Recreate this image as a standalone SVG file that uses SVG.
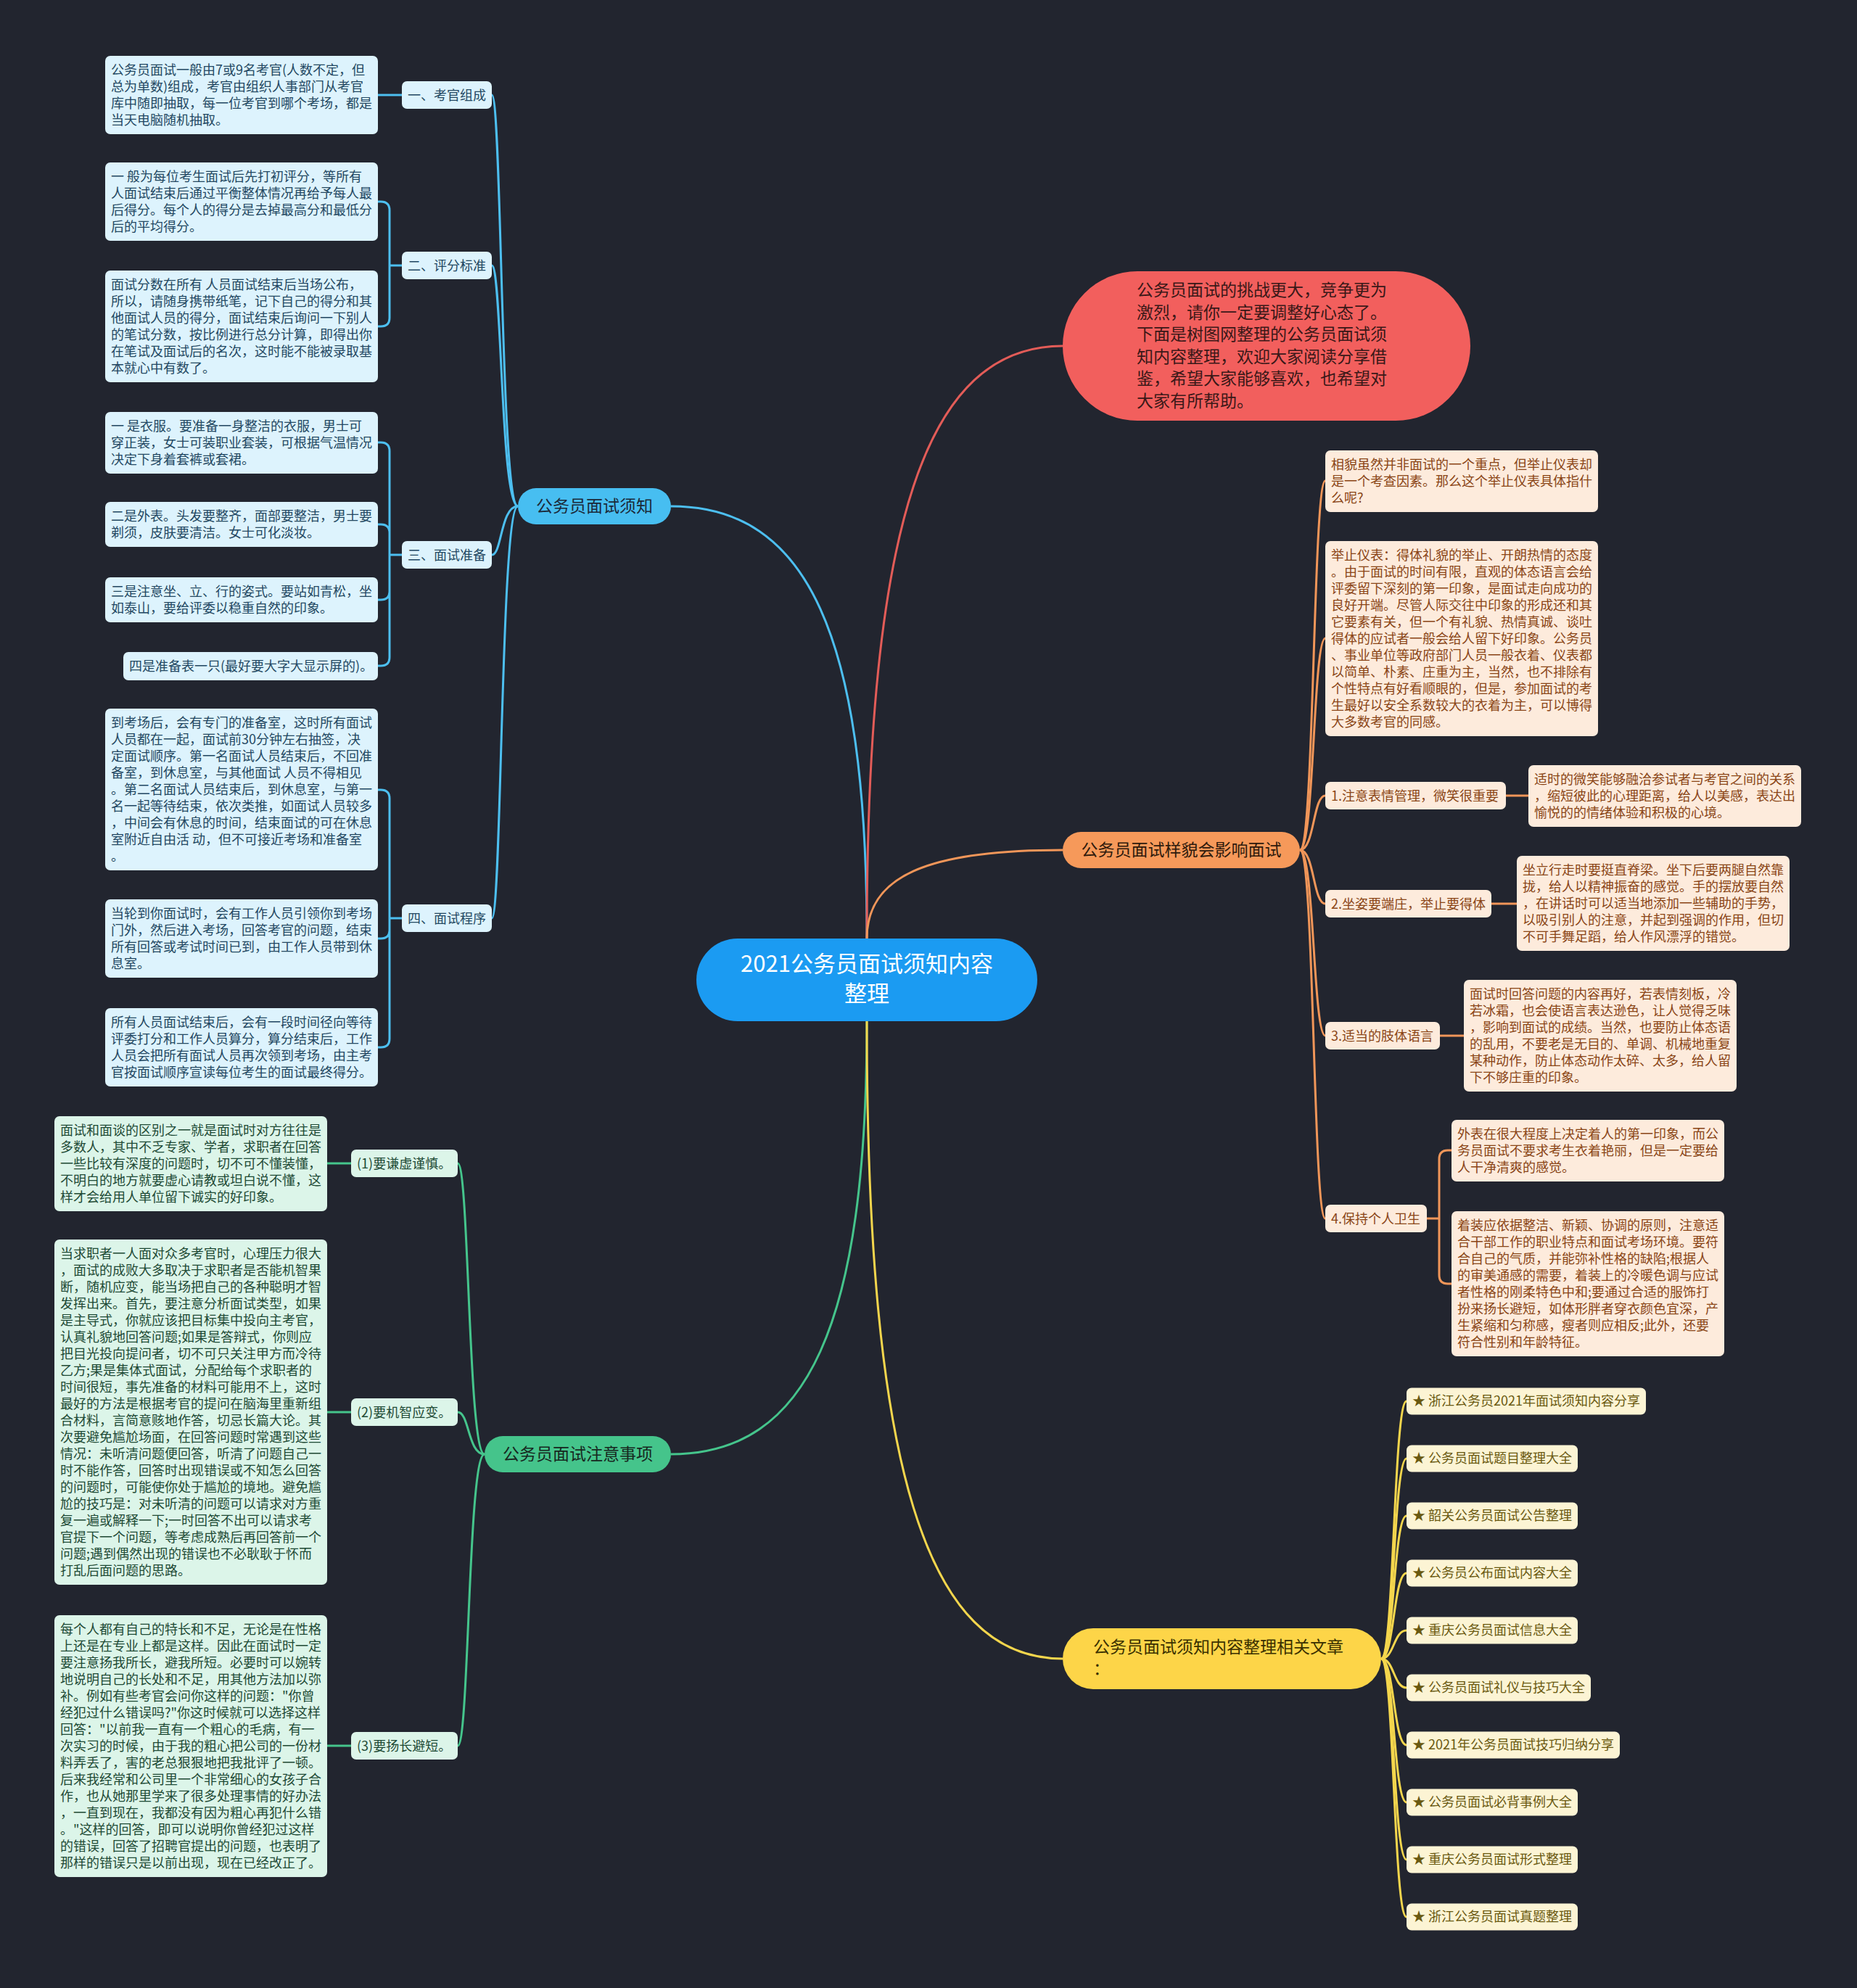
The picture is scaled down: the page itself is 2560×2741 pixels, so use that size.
<svg xmlns="http://www.w3.org/2000/svg" width="2560" height="2741" viewBox="0 0 2560 2741">
<style>
text{font-family:"Noto Sans CJK SC","Noto Sans",sans-serif;}
.lf{font-size:18px;}
.mn{font-size:23px;}
.bl{fill:#DDF3FD;}
.blt{fill:#234862;}
.gr{fill:#DCF5E9;}
.grt{fill:#1E4A35;}
.or{fill:#FDEBDC;}
.ort{fill:#8A4516;}
.ye{fill:#FCF4D4;}
.yet{fill:#6A5910;}
.cb{fill:none;stroke:#4DBFF0;stroke-width:3;}
.cr{fill:none;stroke:#E35C58;stroke-width:3;}
.co{fill:none;stroke:#F19659;stroke-width:3;}
.cg{fill:none;stroke:#45C58C;stroke-width:3;}
.cy{fill:none;stroke:#F4D64D;stroke-width:3;}
</style>
<rect width="2560" height="2741" fill="#22252F"/>
<g id="connectors">
<path class="cb" d="M1195,1294 C1195,877 1114,698 925,698"/>
<path class="cr" d="M1195,1294 C1195,722 1276,477 1465,477"/>
<path class="co" d="M1195,1294 C1195,1209 1276,1172 1465,1172"/>
<path class="cg" d="M1195,1408 C1195,1826 1114,2005 925,2005"/>
<path class="cy" d="M1195,1408 C1195,2023 1276,2287 1465,2287"/>
<path class="cb" d="M714,698 C690,698 692,131 678,131"/>
<path class="cb" d="M714,698 C690,698 692,366 678,366"/>
<path class="cb" d="M714,698 C690,698 692,765 678,765"/>
<path class="cb" d="M714,698 C690,698 692,1266 678,1266"/>
<path class="cb" d="M554,131 H521"/>
<path class="cb" d="M554,366 H537 M537,366 V290 Q537,278 525,278 H521 M537,366 V438 Q537,450 525,450 H521"/>
<path class="cb" d="M554,765 H537 M537,765 V622 Q537,610 525,610 H521 M537,765 V735 Q537,723 525,723 H521 M537,765 V815 Q537,827 525,827 H521 M537,765 V906 Q537,918 525,918 H521"/>
<path class="cb" d="M554,1266 H537 M537,1266 V1101 Q537,1089 525,1089 H521 M537,1266 V1282 Q537,1294 525,1294 H521 M537,1266 V1432 Q537,1444 525,1444 H521"/>
<path class="cg" d="M668,2005 C645,2005 647,1604 631,1604"/>
<path class="cg" d="M668,2005 C645,2005 647,1947 631,1947"/>
<path class="cg" d="M668,2005 C645,2005 647,2407 631,2407"/>
<path class="cg" d="M484,1604 H451 M484,1947 H451 M484,2407 H451"/>
<path class="co" d="M1792,1172 C1812,1172 1810,663 1827,663"/>
<path class="co" d="M1792,1172 C1812,1172 1810,880 1827,880"/>
<path class="co" d="M1792,1172 C1812,1172 1810,1097 1827,1097"/>
<path class="co" d="M1792,1172 C1812,1172 1810,1246 1827,1246"/>
<path class="co" d="M1792,1172 C1812,1172 1810,1428 1827,1428"/>
<path class="co" d="M1792,1172 C1812,1172 1810,1680 1827,1680"/>
<path class="co" d="M2076,1097 H2107 M2056,1246 H2091 M1985,1428 H2018"/>
<path class="co" d="M1967,1680 H1984 M1984,1680 V1598 Q1984,1586 1996,1586 H2001 M1984,1680 V1758 Q1984,1770 1996,1770 H2001"/>
<path class="cy" d="M1904,2287 C1922,2287 1921,1932 1939,1932"/>
<path class="cy" d="M1904,2287 C1922,2287 1921,2011 1939,2011"/>
<path class="cy" d="M1904,2287 C1922,2287 1921,2090 1939,2090"/>
<path class="cy" d="M1904,2287 C1922,2287 1921,2169 1939,2169"/>
<path class="cy" d="M1904,2287 C1922,2287 1921,2248 1939,2248"/>
<path class="cy" d="M1904,2287 C1922,2287 1921,2327 1939,2327"/>
<path class="cy" d="M1904,2287 C1922,2287 1921,2406 1939,2406"/>
<path class="cy" d="M1904,2287 C1922,2287 1921,2485 1939,2485"/>
<path class="cy" d="M1904,2287 C1922,2287 1921,2564 1939,2564"/>
<path class="cy" d="M1904,2287 C1922,2287 1921,2643 1939,2643"/>
</g>
<g id="root">
<rect x="960" y="1294" width="470" height="114" rx="57" fill="#1B9BF2"/>
<text x="1195" y="1340" font-size="31" fill="#FFFFFF" text-anchor="middle">2021公务员面试须知内容<tspan x="1195" dy="41">整理</tspan></text>
</g>
<g id="intro">
<rect x="1465" y="374" width="562" height="206" rx="103" fill="#F25F5D"/>
<text class="mn" x="1567" y="408" fill="#3A1818"><tspan x="1567">公务员面试的挑战更大，竞争更为</tspan><tspan x="1567" dy="30.6">激烈，请你一定要调整好心态了。</tspan><tspan x="1567" dy="30.6">下面是树图网整理的公务员面试须</tspan><tspan x="1567" dy="30.6">知内容整理，欢迎大家阅读分享借</tspan><tspan x="1567" dy="30.6">鉴，希望大家能够喜欢，也希望对</tspan><tspan x="1567" dy="30.6">大家有所帮助。</tspan></text>
</g>
<g id="n-xuzhi">
<rect x="714" y="673" width="211" height="50" rx="25" fill="#47BEF1"/>
<text class="mn" x="819.5" y="706" fill="#1B2A3A" text-anchor="middle">公务员面试须知</text>
</g>
<g id="n-b1">
<rect class="bl" x="554" y="112" width="124" height="38" rx="7"/>
<text class="lf blt" x="562" y="138">一、考官组成</text>
</g>
<g id="n-b1a">
<rect class="bl" x="145" y="77" width="376" height="108" rx="7"/>
<text class="lf blt" x="153" y="103"><tspan x="153">公务员面试一般由7或9名考官(人数不定，但</tspan><tspan x="153" dy="23">总为单数)组成，考官由组织人事部门从考官</tspan><tspan x="153" dy="23">库中随即抽取，每一位考官到哪个考场，都是</tspan><tspan x="153" dy="23">当天电脑随机抽取。</tspan></text>
</g>
<g id="n-b2">
<rect class="bl" x="554" y="347" width="124" height="38" rx="7"/>
<text class="lf blt" x="562" y="373">二、评分标准</text>
</g>
<g id="n-b2a">
<rect class="bl" x="145" y="224" width="376" height="108" rx="7"/>
<text class="lf blt" x="153" y="250"><tspan x="153">一 般为每位考生面试后先打初评分，等所有</tspan><tspan x="153" dy="23">人面试结束后通过平衡整体情况再给予每人最</tspan><tspan x="153" dy="23">后得分。每个人的得分是去掉最高分和最低分</tspan><tspan x="153" dy="23">后的平均得分。</tspan></text>
</g>
<g id="n-b2b">
<rect class="bl" x="145" y="373" width="376" height="154" rx="7"/>
<text class="lf blt" x="153" y="399"><tspan x="153">面试分数在所有 人员面试结束后当场公布，</tspan><tspan x="153" dy="23">所以，请随身携带纸笔，记下自己的得分和其</tspan><tspan x="153" dy="23">他面试人员的得分，面试结束后询问一下别人</tspan><tspan x="153" dy="23">的笔试分数，按比例进行总分计算，即得出你</tspan><tspan x="153" dy="23">在笔试及面试后的名次，这时能不能被录取基</tspan><tspan x="153" dy="23">本就心中有数了。</tspan></text>
</g>
<g id="n-b3">
<rect class="bl" x="554" y="746" width="124" height="38" rx="7"/>
<text class="lf blt" x="562" y="772">三、面试准备</text>
</g>
<g id="n-b3a">
<rect class="bl" x="145" y="568" width="376" height="85" rx="7"/>
<text class="lf blt" x="153" y="594"><tspan x="153">一 是衣服。要准备一身整洁的衣服，男士可</tspan><tspan x="153" dy="23">穿正装，女士可装职业套装，可根据气温情况</tspan><tspan x="153" dy="23">决定下身着套裤或套裙。</tspan></text>
</g>
<g id="n-b3b">
<rect class="bl" x="145" y="692" width="376" height="62" rx="7"/>
<text class="lf blt" x="153" y="718"><tspan x="153">二是外表。头发要整齐，面部要整洁，男士要</tspan><tspan x="153" dy="23">剃须，皮肤要清洁。女士可化淡妆。</tspan></text>
</g>
<g id="n-b3c">
<rect class="bl" x="145" y="796" width="376" height="62" rx="7"/>
<text class="lf blt" x="153" y="822"><tspan x="153">三是注意坐、立、行的姿式。要站如青松，坐</tspan><tspan x="153" dy="23">如泰山，要给评委以稳重自然的印象。</tspan></text>
</g>
<g id="n-b3d">
<rect class="bl" x="170" y="899" width="351" height="39" rx="7"/>
<text class="lf blt" x="178" y="925">四是准备表一只(最好要大字大显示屏的)。</text>
</g>
<g id="n-b4">
<rect class="bl" x="554" y="1247" width="124" height="38" rx="7"/>
<text class="lf blt" x="562" y="1273">四、面试程序</text>
</g>
<g id="n-b4a">
<rect class="bl" x="145" y="977" width="376" height="223" rx="7"/>
<text class="lf blt" x="153" y="1003"><tspan x="153">到考场后，会有专门的准备室，这时所有面试</tspan><tspan x="153" dy="23">人员都在一起，面试前30分钟左右抽签，决</tspan><tspan x="153" dy="23">定面试顺序。第一名面试人员结束后，不回准</tspan><tspan x="153" dy="23">备室，到休息室，与其他面试 人员不得相见</tspan><tspan x="153" dy="23">。第二名面试人员结束后，到休息室，与第一</tspan><tspan x="153" dy="23">名一起等待结束，依次类推，如面试人员较多</tspan><tspan x="153" dy="23">，中间会有休息的时间，结束面试的可在休息</tspan><tspan x="153" dy="23">室附近自由活 动，但不可接近考场和准备室</tspan><tspan x="153" dy="23">。</tspan></text>
</g>
<g id="n-b4b">
<rect class="bl" x="145" y="1240" width="376" height="108" rx="7"/>
<text class="lf blt" x="153" y="1266"><tspan x="153">当轮到你面试时，会有工作人员引领你到考场</tspan><tspan x="153" dy="23">门外，然后进入考场，回答考官的问题，结束</tspan><tspan x="153" dy="23">所有回答或考试时间已到，由工作人员带到休</tspan><tspan x="153" dy="23">息室。</tspan></text>
</g>
<g id="n-b4c">
<rect class="bl" x="145" y="1390" width="376" height="108" rx="7"/>
<text class="lf blt" x="153" y="1416"><tspan x="153">所有人员面试结束后，会有一段时间径向等待</tspan><tspan x="153" dy="23">评委打分和工作人员算分，算分结束后，工作</tspan><tspan x="153" dy="23">人员会把所有面试人员再次领到考场，由主考</tspan><tspan x="153" dy="23">官按面试顺序宣读每位考生的面试最终得分。</tspan></text>
</g>
<g id="n-zhuyi">
<rect x="668" y="1980" width="257" height="50" rx="25" fill="#45C48B"/>
<text class="mn" x="796.5" y="2013" fill="#17281F" text-anchor="middle">公务员面试注意事项</text>
</g>
<g id="n-g1">
<rect class="gr" x="484" y="1585" width="147" height="38" rx="7"/>
<text class="lf grt" x="492" y="1611">(1)要谦虚谨慎。</text>
</g>
<g id="n-g1a">
<rect class="gr" x="75" y="1539" width="376" height="131" rx="7"/>
<text class="lf grt" x="83" y="1565"><tspan x="83">面试和面谈的区别之一就是面试时对方往往是</tspan><tspan x="83" dy="23">多数人，其中不乏专家、学者，求职者在回答</tspan><tspan x="83" dy="23">一些比较有深度的问题时，切不可不懂装懂，</tspan><tspan x="83" dy="23">不明白的地方就要虚心请教或坦白说不懂，这</tspan><tspan x="83" dy="23">样才会给用人单位留下诚实的好印象。</tspan></text>
</g>
<g id="n-g2">
<rect class="gr" x="484" y="1928" width="147" height="38" rx="7"/>
<text class="lf grt" x="492" y="1954">(2)要机智应变。</text>
</g>
<g id="n-g2a">
<rect class="gr" x="75" y="1709" width="376" height="476" rx="7"/>
<text class="lf grt" x="83" y="1735"><tspan x="83">当求职者一人面对众多考官时，心理压力很大</tspan><tspan x="83" dy="23">，面试的成败大多取决于求职者是否能机智果</tspan><tspan x="83" dy="23">断，随机应变，能当场把自己的各种聪明才智</tspan><tspan x="83" dy="23">发挥出来。首先，要注意分析面试类型，如果</tspan><tspan x="83" dy="23">是主导式，你就应该把目标集中投向主考官，</tspan><tspan x="83" dy="23">认真礼貌地回答问题;如果是答辩式，你则应</tspan><tspan x="83" dy="23">把目光投向提问者，切不可只关注甲方而冷待</tspan><tspan x="83" dy="23">乙方;果是集体式面试，分配给每个求职者的</tspan><tspan x="83" dy="23">时间很短，事先准备的材料可能用不上，这时</tspan><tspan x="83" dy="23">最好的方法是根据考官的提问在脑海里重新组</tspan><tspan x="83" dy="23">合材料，言简意赅地作答，切忌长篇大论。其</tspan><tspan x="83" dy="23">次要避免尴尬场面，在回答问题时常遇到这些</tspan><tspan x="83" dy="23">情况：未听清问题便回答，听清了问题自己一</tspan><tspan x="83" dy="23">时不能作答，回答时出现错误或不知怎么回答</tspan><tspan x="83" dy="23">的问题时，可能使你处于尴尬的境地。避免尴</tspan><tspan x="83" dy="23">尬的技巧是：对未听清的问题可以请求对方重</tspan><tspan x="83" dy="23">复一遍或解释一下;一时回答不出可以请求考</tspan><tspan x="83" dy="23">官提下一个问题，等考虑成熟后再回答前一个</tspan><tspan x="83" dy="23">问题;遇到偶然出现的错误也不必耿耿于怀而</tspan><tspan x="83" dy="23">打乱后面问题的思路。</tspan></text>
</g>
<g id="n-g3">
<rect class="gr" x="484" y="2388" width="147" height="38" rx="7"/>
<text class="lf grt" x="492" y="2414">(3)要扬长避短。</text>
</g>
<g id="n-g3a">
<rect class="gr" x="75" y="2227" width="376" height="361" rx="7"/>
<text class="lf grt" x="83" y="2253"><tspan x="83">每个人都有自己的特长和不足，无论是在性格</tspan><tspan x="83" dy="23">上还是在专业上都是这样。因此在面试时一定</tspan><tspan x="83" dy="23">要注意扬我所长，避我所短。必要时可以婉转</tspan><tspan x="83" dy="23">地说明自己的长处和不足，用其他方法加以弥</tspan><tspan x="83" dy="23">补。例如有些考官会问你这样的问题："你曾</tspan><tspan x="83" dy="23">经犯过什么错误吗?"你这时候就可以选择这样</tspan><tspan x="83" dy="23">回答："以前我一直有一个粗心的毛病，有一</tspan><tspan x="83" dy="23">次实习的时候，由于我的粗心把公司的一份材</tspan><tspan x="83" dy="23">料弄丢了，害的老总狠狠地把我批评了一顿。</tspan><tspan x="83" dy="23">后来我经常和公司里一个非常细心的女孩子合</tspan><tspan x="83" dy="23">作，也从她那里学来了很多处理事情的好办法</tspan><tspan x="83" dy="23">，一直到现在，我都没有因为粗心再犯什么错</tspan><tspan x="83" dy="23">。"这样的回答，即可以说明你曾经犯过这样</tspan><tspan x="83" dy="23">的错误，回答了招聘官提出的问题，也表明了</tspan><tspan x="83" dy="23">那样的错误只是以前出现，现在已经改正了。</tspan></text>
</g>
<g id="n-yangmao">
<rect x="1465" y="1147" width="327" height="50" rx="25" fill="#F6995A"/>
<text class="mn" x="1628.5" y="1180" fill="#2E1A0C" text-anchor="middle">公务员面试样貌会影响面试</text>
</g>
<g id="n-o1">
<rect class="or" x="1827" y="621" width="376" height="85" rx="7"/>
<text class="lf ort" x="1835" y="647"><tspan x="1835">相貌虽然并非面试的一个重点，但举止仪表却</tspan><tspan x="1835" dy="23">是一个考查因素。那么这个举止仪表具体指什</tspan><tspan x="1835" dy="23">么呢?</tspan></text>
</g>
<g id="n-o2">
<rect class="or" x="1827" y="746" width="376" height="269" rx="7"/>
<text class="lf ort" x="1835" y="772"><tspan x="1835">举止仪表：得体礼貌的举止、开朗热情的态度</tspan><tspan x="1835" dy="23">。由于面试的时间有限，直观的体态语言会给</tspan><tspan x="1835" dy="23">评委留下深刻的第一印象，是面试走向成功的</tspan><tspan x="1835" dy="23">良好开端。尽管人际交往中印象的形成还和其</tspan><tspan x="1835" dy="23">它要素有关，但一个有礼貌、热情真诚、谈吐</tspan><tspan x="1835" dy="23">得体的应试者一般会给人留下好印象。公务员</tspan><tspan x="1835" dy="23">、事业单位等政府部门人员一般衣着、仪表都</tspan><tspan x="1835" dy="23">以简单、朴素、庄重为主，当然，也不排除有</tspan><tspan x="1835" dy="23">个性特点有好看顺眼的，但是，参加面试的考</tspan><tspan x="1835" dy="23">生最好以安全系数较大的衣着为主，可以博得</tspan><tspan x="1835" dy="23">大多数考官的同感。</tspan></text>
</g>
<g id="n-o3">
<rect class="or" x="1827" y="1078" width="249" height="38" rx="7"/>
<text class="lf ort" x="1835" y="1104">1.注意表情管理，微笑很重要</text>
</g>
<g id="n-o3a">
<rect class="or" x="2107" y="1055" width="376" height="85" rx="7"/>
<text class="lf ort" x="2115" y="1081"><tspan x="2115">适时的微笑能够融洽参试者与考官之间的关系</tspan><tspan x="2115" dy="23">，缩短彼此的心理距离，给人以美感，表达出</tspan><tspan x="2115" dy="23">愉悦的的情绪体验和积极的心境。</tspan></text>
</g>
<g id="n-o4">
<rect class="or" x="1827" y="1227" width="229" height="38" rx="7"/>
<text class="lf ort" x="1835" y="1253">2.坐姿要端庄，举止要得体</text>
</g>
<g id="n-o4a">
<rect class="or" x="2091" y="1180" width="376" height="131" rx="7"/>
<text class="lf ort" x="2099" y="1206"><tspan x="2099">坐立行走时要挺直脊梁。坐下后要两腿自然靠</tspan><tspan x="2099" dy="23">拢，给人以精神振奋的感觉。手的摆放要自然</tspan><tspan x="2099" dy="23">，在讲话时可以适当地添加一些辅助的手势，</tspan><tspan x="2099" dy="23">以吸引别人的注意，并起到强调的作用，但切</tspan><tspan x="2099" dy="23">不可手舞足蹈，给人作风漂浮的错觉。</tspan></text>
</g>
<g id="n-o5">
<rect class="or" x="1827" y="1409" width="158" height="38" rx="7"/>
<text class="lf ort" x="1835" y="1435">3.适当的肢体语言</text>
</g>
<g id="n-o5a">
<rect class="or" x="2018" y="1351" width="376" height="154" rx="7"/>
<text class="lf ort" x="2026" y="1377"><tspan x="2026">面试时回答问题的内容再好，若表情刻板，冷</tspan><tspan x="2026" dy="23">若冰霜，也会使语言表达逊色，让人觉得乏味</tspan><tspan x="2026" dy="23">，影响到面试的成绩。当然，也要防止体态语</tspan><tspan x="2026" dy="23">的乱用，不要老是无目的、单调、机械地重复</tspan><tspan x="2026" dy="23">某种动作，防止体态动作太碎、太多，给人留</tspan><tspan x="2026" dy="23">下不够庄重的印象。</tspan></text>
</g>
<g id="n-o6">
<rect class="or" x="1827" y="1661" width="140" height="38" rx="7"/>
<text class="lf ort" x="1835" y="1687">4.保持个人卫生</text>
</g>
<g id="n-o6a">
<rect class="or" x="2001" y="1544" width="376" height="85" rx="7"/>
<text class="lf ort" x="2009" y="1570"><tspan x="2009">外表在很大程度上决定着人的第一印象，而公</tspan><tspan x="2009" dy="23">务员面试不要求考生衣着艳丽，但是一定要给</tspan><tspan x="2009" dy="23">人干净清爽的感觉。</tspan></text>
</g>
<g id="n-o6b">
<rect class="or" x="2001" y="1670" width="376" height="200" rx="7"/>
<text class="lf ort" x="2009" y="1696"><tspan x="2009">着装应依据整洁、新颖、协调的原则，注意适</tspan><tspan x="2009" dy="23">合干部工作的职业特点和面试考场环境。要符</tspan><tspan x="2009" dy="23">合自己的气质，并能弥补性格的缺陷;根据人</tspan><tspan x="2009" dy="23">的审美通感的需要，着装上的冷暖色调与应试</tspan><tspan x="2009" dy="23">者性格的刚柔特色中和;要通过合适的服饰打</tspan><tspan x="2009" dy="23">扮来扬长避短，如体形胖者穿衣颜色宜深，产</tspan><tspan x="2009" dy="23">生紧缩和匀称感，瘦者则应相反;此外，还要</tspan><tspan x="2009" dy="23">符合性别和年龄特征。</tspan></text>
</g>
<g id="n-related">
<rect x="1465" y="2245" width="439" height="84" rx="42" fill="#FDD548"/>
<text class="mn" x="1507" y="2279" fill="#3A3000"><tspan x="1507">公务员面试须知内容整理相关文章</tspan><tspan x="1507" dy="30">：</tspan></text>
</g>
<g id="n-y1"><rect class="ye" x="1939" y="1913.5" width="330" height="37" rx="7"/><text class="lf yet" x="1947" y="1938">★ 浙江公务员2021年面试须知内容分享</text></g>
<g id="n-y2"><rect class="ye" x="1939" y="1992.5" width="236" height="37" rx="7"/><text class="lf yet" x="1947" y="2017">★ 公务员面试题目整理大全</text></g>
<g id="n-y3"><rect class="ye" x="1939" y="2071.5" width="236" height="37" rx="7"/><text class="lf yet" x="1947" y="2096">★ 韶关公务员面试公告整理</text></g>
<g id="n-y4"><rect class="ye" x="1939" y="2150.5" width="236" height="37" rx="7"/><text class="lf yet" x="1947" y="2175">★ 公务员公布面试内容大全</text></g>
<g id="n-y5"><rect class="ye" x="1939" y="2229.5" width="236" height="37" rx="7"/><text class="lf yet" x="1947" y="2254">★ 重庆公务员面试信息大全</text></g>
<g id="n-y6"><rect class="ye" x="1939" y="2308.5" width="254" height="37" rx="7"/><text class="lf yet" x="1947" y="2333">★ 公务员面试礼仪与技巧大全</text></g>
<g id="n-y7"><rect class="ye" x="1939" y="2387.5" width="294" height="37" rx="7"/><text class="lf yet" x="1947" y="2412">★ 2021年公务员面试技巧归纳分享</text></g>
<g id="n-y8"><rect class="ye" x="1939" y="2466.5" width="236" height="37" rx="7"/><text class="lf yet" x="1947" y="2491">★ 公务员面试必背事例大全</text></g>
<g id="n-y9"><rect class="ye" x="1939" y="2545.5" width="236" height="37" rx="7"/><text class="lf yet" x="1947" y="2570">★ 重庆公务员面试形式整理</text></g>
<g id="n-y10"><rect class="ye" x="1939" y="2624.5" width="236" height="37" rx="7"/><text class="lf yet" x="1947" y="2649">★ 浙江公务员面试真题整理</text></g>
</svg>
